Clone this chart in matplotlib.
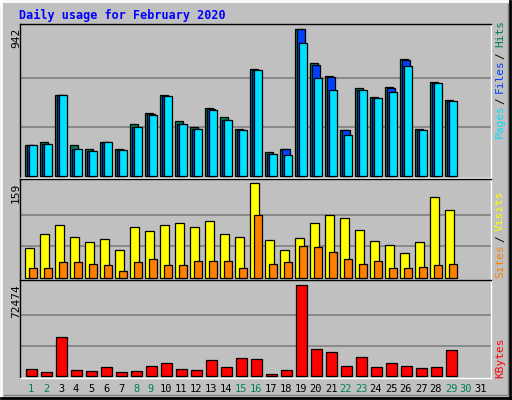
import matplotlib
matplotlib.use("Agg")
import matplotlib.pyplot as plt
from matplotlib.patches import Rectangle
from matplotlib.lines import Line2D

days = list(range(1, 32))
hits  = [199,218,519,199,173,218,173,333,404,519,352,314,436,378,301,686,154,173,942,724,641,295,564,506,570,750,301,602,487,0,0]
files = [199,205,519,173,160,218,167,314,398,513,333,301,429,359,295,679,141,173,942,711,634,295,551,500,562,741,295,596,481,0,0]
pages = [199,205,519,173,160,218,167,314,391,513,333,301,423,359,295,679,141,135,852,628,551,263,551,500,538,705,295,596,481,0,0]
sites = [50,73,88,69,60,66,47,85,78,88,92,86,95,74,69,159,64,47,67,92,105,100,81,62,55,41,60,135,114,0,0]
visits= [16,17,26,26,24,22,12,26,31,21,21,28,29,28,17,105,24,26,54,52,43,31,24,28,17,16,19,22,24,0,0]
kbytes= [5819,3439,31212,5026,4232,7406,3439,4232,8200,10580,5819,5026,12961,7406,14548,13754,1852,5026,72474,21690,19309,8200,15341,7406,10580,8200,6613,7406,20896,0,0]
weekend = {1,2,8,9,15,16,22,23,29,30}

W, H = 512, 400
fig = plt.figure(figsize=(W/100, H/100), dpi=100, facecolor="#C0C0C0")
mono = "DejaVu Sans Mono"

def ax_px(x0, y0, x1, y1):
    return fig.add_axes([x0/W, 1-y1/H, (x1-x0)/W, (y1-y0)/H])

def setup(ax, vmax, top_margin, bot_margin, span):
    ax.set_facecolor("#C0C0C0")
    ax.set_xlim(0, 471)
    ax.set_ylim(-vmax*bot_margin/span, vmax*(1+top_margin/span))
    for v in (vmax/3, 2*vmax/3):
        ax.axhline(v, color="#808080", lw=1.2, zorder=0)
    ax.set_xticks([]); ax.set_yticks([])
    for s in ax.spines.values():
        s.set_color("black"); s.set_linewidth(1)
    ax.spines["bottom"].set_color("white"); ax.spines["right"].set_color("white")

def bar(ax, x, w, v, c):
    if v > 0:
        ax.add_patch(Rectangle((x, 0), w, v, facecolor=c, edgecolor="black", lw=0.9))

ax1 = ax_px(20, 24, 491, 178)
setup(ax1, 942, 5, 2, 146.7)
ax2 = ax_px(20, 179, 491, 280)
setup(ax2, 159, 4, 2, 92)
ax3 = ax_px(20, 280, 491, 378)
setup(ax3, 72474, 5, 2, 91.3)

for i, d in enumerate(days):
    b = 5 + 15*(d-1)
    bar(ax1, b, 8, hits[i], "#00805C")
    bar(ax1, b+2, 8, files[i], "#0040FF")
    bar(ax1, b+4, 8, pages[i], "#00E0FF")
    bar(ax2, b, 8.5, sites[i], "#FFFF00")
    bar(ax2, b+4.3, 7.5, visits[i], "#FF8000")
    bar(ax3, b+1, 10.5, kbytes[i], "#FF0000")
    fig.text((20+b+6)/W, 1-389/H, str(d), ha="center", va="center", fontsize=7.5,
             family=mono, color="#00805C" if d in weekend else "black")

def vtxt(x, ybot, s, c):
    fig.text(x/W, 1-ybot/H, s, rotation=90, ha="center", va="bottom", fontsize=8, family=mono, color=c)

vtxt(16, 48, "942", "black")
vtxt(16, 203, "159", "black")
vtxt(16, 318, "72474", "black")
vtxt(500, 138, "Pages", "#00E0FF"); vtxt(500, 104, "/", "black"); vtxt(500, 93, "Files", "#0040FF")
vtxt(500, 59, "/", "black"); vtxt(500, 47, "Hits", "#00805C")
vtxt(500, 278, "Sites", "#FF8000"); vtxt(500, 242, "/", "black"); vtxt(500, 231, "Visits", "#FFFF00")
vtxt(500, 378, "KBytes", "#FF0000")

fig.text(19/W, 1-15/H, "Daily usage for February 2020", fontsize=8.5, family=mono,
         weight="bold", color="#0000FF", va="center")

# 3D border
def ln(x0, y0, x1, y1, c, lw=1):
    fig.add_artist(Line2D([x0/W, x1/W], [1-y0/H, 1-y1/H], color=c, lw=lw))
ln(1, 1, 510, 1, "white", 2); ln(1, 1, 1, 398, "white", 2)
ln(1, 398, 511, 398, "black", 2); ln(510, 1, 510, 398, "black", 2)
ln(4, 395, 508, 395, "#808080", 1); ln(508, 4, 508, 395, "#808080", 1)

fig.savefig("out.png", dpi=100, facecolor=fig.get_facecolor())
